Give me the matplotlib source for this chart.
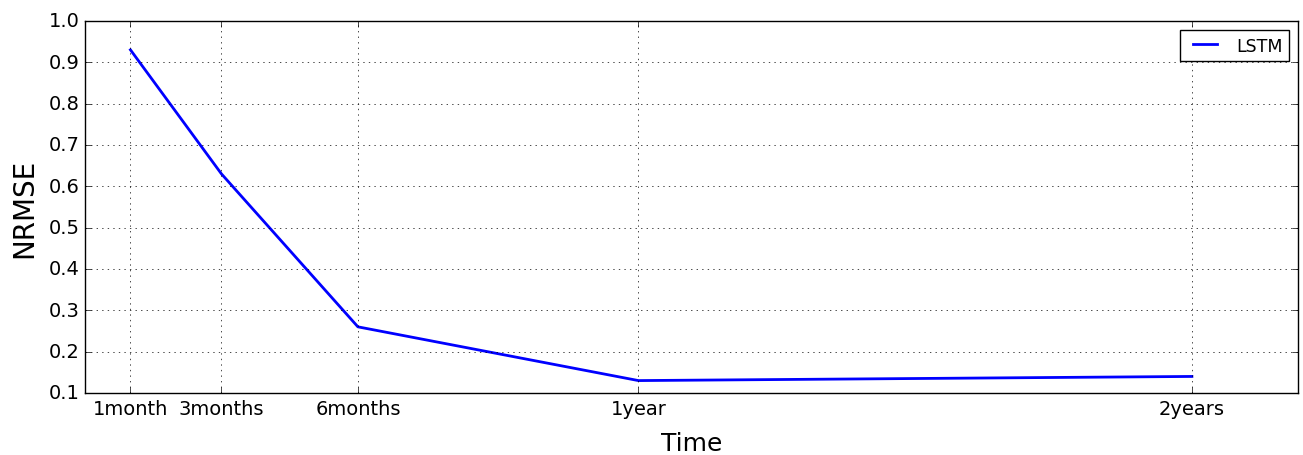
import matplotlib
matplotlib.use('Agg')
import matplotlib.pyplot as plt

# horizon in days and the matching NRMSE
days = [30, 90, 180, 365, 730]
labels = ['1month', '3months', '6months', '1year', '2years']
nrmse = [0.93, 0.63, 0.26, 0.13, 0.14]

plt.style.use('classic')
plt.rcParams['font.family'] = 'DejaVu Sans'

fig = plt.figure(figsize=(13.03, 4.56), dpi=100, facecolor='white')
ax = fig.add_axes([0.0652, 0.136, 0.931, 0.816])

ax.plot(days, nrmse, color='blue', linewidth=2, label='LSTM')

ax.set_xlim(0, 800)
ax.set_ylim(0.1, 1.0)
ax.set_xticks(days)
ax.set_xticklabels(labels, fontsize=14)
ax.tick_params(axis='y', labelsize=14)
ax.set_yticks([0.1, 0.2, 0.3, 0.4, 0.5, 0.6, 0.7, 0.8, 0.9, 1.0])
ax.grid(True)

ax.set_xlabel('Time', fontsize=18, labelpad=10)
ax.set_ylabel('NRMSE', fontsize=20, labelpad=7)
ax.legend(loc='upper right', fontsize=12.5, borderaxespad=0.5)

fig.savefig('out.png', dpi=100, facecolor='white')
